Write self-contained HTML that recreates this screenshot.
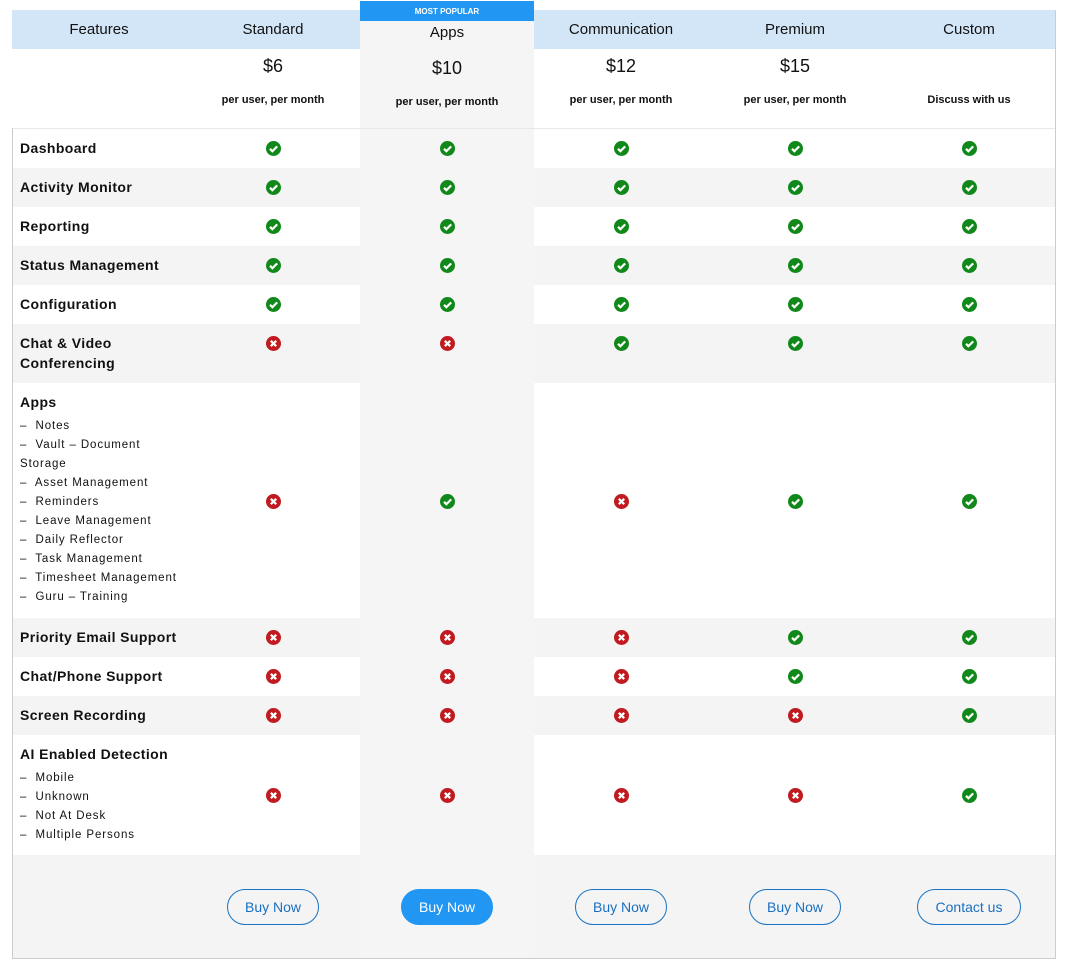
<!DOCTYPE html>
<html><head><meta charset="utf-8"><style>
*{margin:0;padding:0;box-sizing:border-box}
body{width:1070px;height:969px;background:#fff;position:relative;font-family:"Liberation Sans",Arial,sans-serif;color:#111;overflow:hidden}
.a{position:absolute}
.row{position:absolute;left:12px;width:1044px;display:flex}
.row>div{width:174px;height:100%;position:relative}
.g{background:#f4f4f4}
.row>div:nth-child(3){background:#f5f5f5}
.lab{padding:9px 0 0 8px;font-weight:bold;font-size:14px;letter-spacing:.4px;line-height:20px}
.sub{font-size:11.5px;font-weight:normal;letter-spacing:.9px;line-height:19px;margin-top:5px}
.ic{position:absolute;left:80px;top:12px;width:15px;height:15px}
.mid .ic{top:50%;margin-top:-7px}
.hd{font-size:15px;text-align:center;position:absolute;width:174px}
.pr{font-size:18px;text-align:center;position:absolute;width:174px}
.pu{font-size:11px;font-weight:bold;text-align:center;position:absolute;width:174px}
.btn{position:absolute;top:34px;left:41px;width:92px;height:36px;border:1px solid #1a73c4;border-radius:18px;color:#1a6fc0;font-size:14px;text-align:center;line-height:34px}
</style></head><body>
<svg width="0" height="0" style="position:absolute"><defs>
<symbol id="ok" viewBox="0 0 15 15"><circle cx="7.5" cy="7.5" r="7.5" fill="#11891a"/><path d="M4 7.8l2.4 2.4L11.2 5.4" stroke="#fff" stroke-width="2.2" fill="none"/></symbol>
<symbol id="no" viewBox="0 0 15 15"><circle cx="7.5" cy="7.5" r="7.5" fill="#c11a1f"/><path d="M4.8 4.8l5.4 5.4M10.2 4.8l-5.4 5.4" stroke="#fff" stroke-width="2.2"/></symbol>
</defs></svg>

<div class="a" style="left:12px;top:10px;width:1044px;height:39px;background:#d3e6f8"></div>
<div class="a" style="left:360px;top:1px;width:174px;height:958px;background:#f5f5f5"></div>
<div class="a" style="left:360px;top:1px;width:174px;height:20px;background:#2196f3;color:#fff;font-size:8px;font-weight:bold;text-align:center;line-height:21px">MOST POPULAR</div>
<div class="hd" style="left:12px;top:21px">Features</div>
<div class="hd" style="left:186px;top:21px">Standard</div>
<div class="hd" style="left:360px;top:24px">Apps</div>
<div class="hd" style="left:534px;top:21px">Communication</div>
<div class="hd" style="left:708px;top:21px">Premium</div>
<div class="hd" style="left:882px;top:21px">Custom</div>
<div class="pr" style="left:186px;top:56px">$6</div>
<div class="pr" style="left:360px;top:58px">$10</div>
<div class="pr" style="left:534px;top:56px">$12</div>
<div class="pr" style="left:708px;top:56px">$15</div>
<div class="pu" style="left:186px;top:94px">per user, per month</div>
<div class="pu" style="left:360px;top:96px">per user, per month</div>
<div class="pu" style="left:534px;top:94px">per user, per month</div>
<div class="pu" style="left:708px;top:94px">per user, per month</div>
<div class="pu" style="left:882px;top:94px">Discuss with us</div>
<div class="a" style="left:12px;top:128px;width:1044px;height:1px;background:#e8e8e8"></div>

<div class="row" style="top:129px;height:39px"><div class="lab">Dashboard</div><div><svg class="ic"><use href="#ok"/></svg></div><div><svg class="ic"><use href="#ok"/></svg></div><div><svg class="ic"><use href="#ok"/></svg></div><div><svg class="ic"><use href="#ok"/></svg></div><div><svg class="ic"><use href="#ok"/></svg></div></div>
<div class="row g" style="top:168px;height:39px"><div class="lab">Activity Monitor</div><div><svg class="ic"><use href="#ok"/></svg></div><div><svg class="ic"><use href="#ok"/></svg></div><div><svg class="ic"><use href="#ok"/></svg></div><div><svg class="ic"><use href="#ok"/></svg></div><div><svg class="ic"><use href="#ok"/></svg></div></div>
<div class="row" style="top:207px;height:39px"><div class="lab">Reporting</div><div><svg class="ic"><use href="#ok"/></svg></div><div><svg class="ic"><use href="#ok"/></svg></div><div><svg class="ic"><use href="#ok"/></svg></div><div><svg class="ic"><use href="#ok"/></svg></div><div><svg class="ic"><use href="#ok"/></svg></div></div>
<div class="row g" style="top:246px;height:39px"><div class="lab">Status Management</div><div><svg class="ic"><use href="#ok"/></svg></div><div><svg class="ic"><use href="#ok"/></svg></div><div><svg class="ic"><use href="#ok"/></svg></div><div><svg class="ic"><use href="#ok"/></svg></div><div><svg class="ic"><use href="#ok"/></svg></div></div>
<div class="row" style="top:285px;height:39px"><div class="lab">Configuration</div><div><svg class="ic"><use href="#ok"/></svg></div><div><svg class="ic"><use href="#ok"/></svg></div><div><svg class="ic"><use href="#ok"/></svg></div><div><svg class="ic"><use href="#ok"/></svg></div><div><svg class="ic"><use href="#ok"/></svg></div></div>
<div class="row g" style="top:324px;height:59px"><div class="lab">Chat &amp; Video<br>Conferencing</div><div><svg class="ic"><use href="#no"/></svg></div><div><svg class="ic"><use href="#no"/></svg></div><div><svg class="ic"><use href="#ok"/></svg></div><div><svg class="ic"><use href="#ok"/></svg></div><div><svg class="ic"><use href="#ok"/></svg></div></div>
<div class="row mid" style="top:383px;height:235px"><div class="lab">Apps<div class="sub">–&nbsp; Notes<br>–&nbsp; Vault – Document<br>Storage<br>–&nbsp; Asset Management<br>–&nbsp; Reminders<br>–&nbsp; Leave Management<br>–&nbsp; Daily Reflector<br>–&nbsp; Task Management<br>–&nbsp; Timesheet Management<br>–&nbsp; Guru – Training</div></div><div><svg class="ic"><use href="#no"/></svg></div><div><svg class="ic"><use href="#ok"/></svg></div><div><svg class="ic"><use href="#no"/></svg></div><div><svg class="ic"><use href="#ok"/></svg></div><div><svg class="ic"><use href="#ok"/></svg></div></div>
<div class="row g" style="top:618px;height:39px"><div class="lab">Priority Email Support</div><div><svg class="ic"><use href="#no"/></svg></div><div><svg class="ic"><use href="#no"/></svg></div><div><svg class="ic"><use href="#no"/></svg></div><div><svg class="ic"><use href="#ok"/></svg></div><div><svg class="ic"><use href="#ok"/></svg></div></div>
<div class="row" style="top:657px;height:39px"><div class="lab">Chat/Phone Support</div><div><svg class="ic"><use href="#no"/></svg></div><div><svg class="ic"><use href="#no"/></svg></div><div><svg class="ic"><use href="#no"/></svg></div><div><svg class="ic"><use href="#ok"/></svg></div><div><svg class="ic"><use href="#ok"/></svg></div></div>
<div class="row g" style="top:696px;height:39px"><div class="lab">Screen Recording</div><div><svg class="ic"><use href="#no"/></svg></div><div><svg class="ic"><use href="#no"/></svg></div><div><svg class="ic"><use href="#no"/></svg></div><div><svg class="ic"><use href="#no"/></svg></div><div><svg class="ic"><use href="#ok"/></svg></div></div>
<div class="row mid" style="top:735px;height:120px"><div class="lab">AI Enabled Detection<div class="sub">–&nbsp; Mobile<br>–&nbsp; Unknown<br>–&nbsp; Not At Desk<br>–&nbsp; Multiple Persons</div></div><div><svg class="ic"><use href="#no"/></svg></div><div><svg class="ic"><use href="#no"/></svg></div><div><svg class="ic"><use href="#no"/></svg></div><div><svg class="ic"><use href="#no"/></svg></div><div><svg class="ic"><use href="#ok"/></svg></div></div>
<div class="row g" style="top:855px;height:104px"><div></div><div><div class="btn">Buy Now</div></div><div><div class="btn" style="background:#2196f3;border-color:#2196f3;color:#fff">Buy Now</div></div><div><div class="btn">Buy Now</div></div><div><div class="btn">Buy Now</div></div><div><div class="btn" style="left:35px;width:104px">Contact us</div></div></div>

<div class="a" style="left:12px;top:128px;width:1px;height:831px;background:#ccc"></div>
<div class="a" style="left:1055px;top:10px;width:1px;height:949px;background:#ccc"></div>
<div class="a" style="left:12px;top:958px;width:1044px;height:1px;background:#ccc"></div>
</body></html>
